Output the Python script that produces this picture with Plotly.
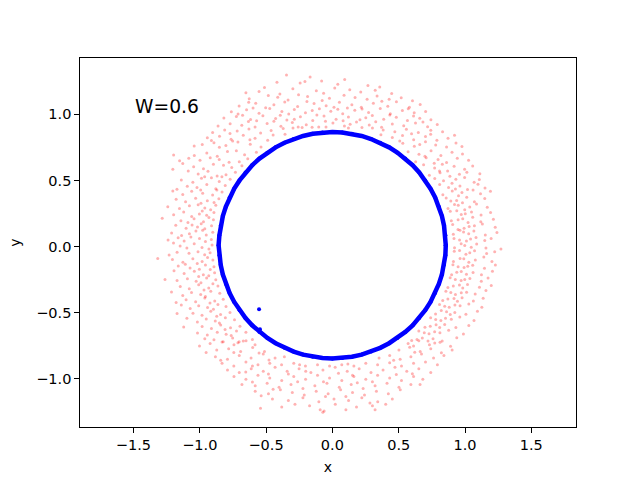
import plotly.graph_objects as go

# Noisy outer cloud (red), hand-read estimates (x, y)
red_top = [
    (-0.346, 1.297), (-0.168, 1.281), (0.093, 1.262),
    (-0.418, 1.241), (-0.243, 1.236), (-0.207, 1.247), (0.268, 1.218), (0.041, 1.226), (0.357, 1.206), (-0.512, 1.203), (-0.081, 1.252),
    (-0.553, 1.171), (-0.298, 1.193), (-0.121, 1.178), (0.131, 1.186), (-0.066, 1.158), (0.214, 1.169), (0.447, 1.157), (-0.396, 1.153), (0.018, 1.199), (0.323, 1.181), (-0.652, 1.162),
    (-0.627, 1.118), (-0.483, 1.142), (-0.334, 1.107), (-0.187, 1.134), (-0.022, 1.121), (0.088, 1.144), (0.262, 1.113), (0.337, 1.138), (0.519, 1.124), (0.604, 1.102), (-0.077, 1.104), (-0.412, 1.129), (0.171, 1.127), (-0.255, 1.148), (0.428, 1.113),
    (-0.703, 1.063), (-0.578, 1.084), (-0.441, 1.071), (-0.359, 1.093), (-0.262, 1.058), (-0.138, 1.082), (-0.047, 1.064), (0.053, 1.091), (0.147, 1.072), (0.218, 1.053), (0.309, 1.084), (0.418, 1.061), (0.483, 1.094), (0.581, 1.052), (0.662, 1.074), (-0.503, 1.049), (-0.192, 1.097), (0.012, 1.053), (0.373, 1.099), (-0.631, 1.091),
    (-0.762, 1.018), (-0.647, 1.034), (-0.553, 1.008), (-0.472, 1.043), (-0.381, 1.021), (-0.287, 1.036), (-0.203, 1.011), (-0.098, 1.042), (-0.012, 1.022), (0.078, 1.004), (0.169, 1.031), (0.273, 1.013), (0.361, 1.044), (0.437, 1.003), (0.528, 1.029), (0.617, 1.012), (0.703, 1.021), (-0.329, 1.002), (0.113, 1.048), (-0.598, 1.047), (-0.152, 1.029), (0.224, 1.039), (0.572, 1.041), (-0.711, 1.001), (0.041, 1.037),
    (-0.818, 0.972), (-0.724, 0.983), (-0.617, 0.961), (-0.524, 0.989), (-0.428, 0.968), (-0.343, 0.957), (-0.241, 0.981), (-0.148, 0.953), (-0.063, 0.987), (0.028, 0.962), (0.121, 0.979), (0.208, 0.958), (0.301, 0.991), (0.387, 0.963), (0.482, 0.978), (0.566, 0.952), (0.659, 0.969), (0.743, 0.958), (-0.571, 0.951), (0.252, 0.973), (-0.117, 0.994), (-0.677, 0.992), (0.433, 0.994), (-0.393, 0.993), (0.081, 0.951), (0.612, 0.987), (-0.287, 0.962),
    (-0.862, 0.912), (-0.771, 0.928), (-0.683, 0.917), (-0.583, 0.903), (-0.492, 0.931), (-0.388, 0.909), (-0.302, 0.938), (-0.197, 0.921), (-0.103, 0.904), (0.004, 0.933), (0.091, 0.911), (0.182, 0.942), (0.278, 0.919), (0.371, 0.902), (0.452, 0.927), (0.538, 0.913), (0.627, 0.934), (0.718, 0.906), (0.791, 0.923), (-0.258, 0.903), (0.327, 0.944), (-0.633, 0.946), (-0.441, 0.947), (0.134, 0.925), (-0.052, 0.948), (0.683, 0.941),
    (-0.903, 0.862), (-0.812, 0.881), (-0.718, 0.873), (-0.629, 0.888), (-0.541, 0.859), (-0.462, 0.878), (-0.371, 0.892), (0.383, 0.881), (0.471, 0.868), (0.558, 0.887), (0.648, 0.862), (0.742, 0.879), (0.831, 0.868), (-0.297, 0.897), (0.302, 0.896), (-0.153, 0.902), (0.121, 0.897), (-0.048, 0.904), (0.223, 0.899), (-0.772, 0.855), (0.597, 0.853), (-0.228, 0.899),
    (-0.943, 0.822), (-0.851, 0.834), (-0.764, 0.812), (-0.672, 0.841), (-0.583, 0.818), (-0.488, 0.803), (-0.447, 0.843), (0.452, 0.824), (0.529, 0.839), (0.613, 0.808), (0.702, 0.831), (0.788, 0.803), (0.872, 0.818), (-0.912, 0.801), (-0.357, 0.848), (0.366, 0.846), (0.921, 0.842), (-0.622, 0.807), (0.741, 0.848),
    (-0.981, 0.772), (-0.893, 0.784), (-0.803, 0.763), (-0.712, 0.791), (-0.619, 0.774), (-0.538, 0.752), (0.531, 0.781), (0.618, 0.759), (0.702, 0.793), (0.779, 0.768), (0.861, 0.752), (0.932, 0.783), (-0.852, 0.751), (-0.752, 0.797), (0.659, 0.771), (-1.042, 0.761), (0.508, 0.797), (0.977, 0.757),
    (-1.197, 0.693), (-1.152, 0.648), (-1.203, 0.584),
]
red_left = [
    (-0.573, 0.712), (-0.662, 0.694), (-0.791, 0.718), (-0.868, 0.683), (-0.947, 0.707), (-0.724, 0.725), (-1.041, 0.689),
    (-0.638, 0.663), (-0.702, 0.641), (-0.853, 0.659), (-0.921, 0.672), (-0.779, 0.638), (-0.998, 0.652), (-1.083, 0.667),
    (-0.682, 0.611), (-0.759, 0.598), (-0.897, 0.622), (-0.972, 0.589), (-0.821, 0.614), (-1.046, 0.603), (-1.128, 0.628),
    (-0.731, 0.562), (-0.802, 0.543), (-0.938, 0.569), (-1.012, 0.548), (-0.869, 0.534), (-1.087, 0.571), (-0.963, 0.527),
    (-0.771, 0.509), (-0.853, 0.492), (-0.987, 0.516), (-1.052, 0.487), (-0.912, 0.521), (-1.139, 0.503), (-0.833, 0.527),
    (-0.808, 0.461), (-0.879, 0.438), (-1.021, 0.447), (-0.947, 0.469), (-1.094, 0.456), (-1.172, 0.433), (-0.993, 0.428),
    (-0.832, 0.412), (-0.903, 0.389), (-1.061, 0.418), (-0.978, 0.403), (-1.128, 0.394), (-1.203, 0.421), (-0.871, 0.427),
    (-0.856, 0.361), (-0.943, 0.347), (-1.031, 0.366), (-1.107, 0.339), (-0.991, 0.328), (-1.178, 0.357), (-0.892, 0.333),
    (-0.879, 0.312), (-0.962, 0.291), (-1.078, 0.308), (-1.012, 0.317), (-1.153, 0.287), (-0.918, 0.279), (-1.241, 0.302),
    (-0.893, 0.258), (-1.003, 0.247), (-0.948, 0.236), (-1.121, 0.262), (-1.061, 0.228), (-1.197, 0.241), (-0.981, 0.269),
    (-0.897, 0.203), (-0.972, 0.188), (-1.043, 0.211), (-1.142, 0.196), (-0.931, 0.219), (-1.089, 0.183), (-1.283, 0.214),
    (-0.911, 0.157), (-1.017, 0.148), (-0.962, 0.134), (-1.181, 0.161), (-1.103, 0.139), (-0.989, 0.172), (-1.058, 0.163),
    (-0.902, 0.108), (-0.951, 0.087), (-1.078, 0.097), (-1.029, 0.118), (-1.212, 0.102), (-1.137, 0.083), (-0.978, 0.123),
    (-0.913, 0.054), (-1.002, 0.061), (-1.118, 0.043), (-0.957, 0.038), (-1.067, 0.072), (-1.239, 0.049), (-1.163, 0.067),
    (-0.907, 0.012), (-0.983, -0.007), (-1.042, 0.021), (-1.148, 0.004), (-0.931, -0.018), (-1.097, -0.011), (-1.198, 0.027),
    (-0.922, -0.047), (-1.013, -0.039), (-0.963, -0.062), (-1.081, -0.051), (-1.317, -0.089), (-1.171, -0.043), (-1.231, -0.063),
    (-0.901, -0.101), (-0.982, -0.113), (-1.052, -0.092), (-1.127, -0.118), (-0.941, -0.082), (-1.206, -0.097), (-1.019, -0.127),
    (-0.893, -0.152), (-0.957, -0.139), (-1.073, -0.162), (-1.003, -0.171), (-1.162, -0.147), (-0.921, -0.173), (-1.109, -0.134),
    (-0.888, -0.198), (-0.973, -0.213), (-1.041, -0.187), (-1.118, -0.204), (-0.932, -0.221), (-1.194, -0.183), (-1.008, -0.226),
    (-0.879, -0.251), (-0.948, -0.238), (-1.027, -0.262), (-1.093, -0.243), (-0.991, -0.273), (-1.171, -0.257), (-1.262, -0.248),
    (-0.863, -0.297), (-0.932, -0.312), (-1.008, -0.289), (-1.079, -0.318), (-0.968, -0.328), (-1.147, -0.302), (-0.901, -0.281),
    (-0.849, -0.352), (-0.917, -0.338), (-0.993, -0.361), (-1.062, -0.347), (-1.128, -0.369), (-0.957, -0.377), (-1.213, -0.343),
    (-0.823, -0.398), (-0.887, -0.411), (-0.962, -0.389), (-1.031, -0.417), (-1.103, -0.402), (-0.923, -0.426), (-1.178, -0.423),
    (-0.802, -0.452), (-0.863, -0.437), (-0.941, -0.461), (-1.008, -0.447), (-1.072, -0.468), (-0.897, -0.473), (-1.139, -0.441),
    (-0.772, -0.498), (-0.843, -0.513), (-0.917, -0.489), (-0.983, -0.518), (-1.051, -0.503), (-0.872, -0.527), (-1.171, -0.506),
    (-0.738, -0.553), (-0.807, -0.538), (-0.883, -0.562), (-0.951, -0.547), (-1.018, -0.569), (-0.852, -0.577), (-1.097, -0.541),
    (-0.697, -0.601), (-0.768, -0.614), (-0.842, -0.592), (-0.912, -0.618), (-0.982, -0.603), (-0.809, -0.627), (-1.121, -0.607),
    (-0.652, -0.648), (-0.723, -0.637), (-0.801, -0.662), (-0.868, -0.647), (-0.943, -0.668), (-0.763, -0.672), (-1.017, -0.652),
    (-0.603, -0.702), (-0.672, -0.713), (-0.752, -0.691), (-0.823, -0.718), (-0.893, -0.704), (-0.712, -0.727), (-0.962, -0.697),
]
red_right = [
    (0.571, 0.716), (0.653, 0.697), (0.744, 0.724), (0.818, 0.689), (0.902, 0.712), (0.698, 0.683), (0.981, 0.699),
    (0.628, 0.641), (0.707, 0.672), (0.797, 0.658), (0.861, 0.636), (0.942, 0.667), (0.768, 0.629), (1.027, 0.652),
    (0.688, 0.618), (0.771, 0.594), (0.829, 0.623), (0.918, 0.607), (0.997, 0.584), (0.808, 0.572), (1.058, 0.609),
    (0.731, 0.539), (0.812, 0.558), (0.869, 0.571), (0.958, 0.547), (1.014, 0.562), (0.886, 0.531), (1.112, 0.551),
    (0.772, 0.514), (0.838, 0.497), (0.931, 0.508), (0.997, 0.523), (1.069, 0.486), (0.902, 0.479), (1.108, 0.507),
    (0.809, 0.469), (0.876, 0.447), (0.962, 0.458), (1.019, 0.432), (1.098, 0.471), (0.928, 0.436), (1.151, 0.443),
    (0.833, 0.392), (0.904, 0.421), (0.977, 0.409), (1.061, 0.428), (1.117, 0.399), (0.951, 0.384), (1.192, 0.418),
    (0.858, 0.368), (0.937, 0.349), (1.013, 0.372), (1.071, 0.338), (1.149, 0.363), (0.981, 0.331), (0.893, 0.344),
    (0.872, 0.288), (0.949, 0.312), (1.036, 0.299), (1.087, 0.321), (1.168, 0.297), (0.998, 0.279), (0.921, 0.318),
    (0.889, 0.267), (0.972, 0.243), (1.049, 0.262), (1.121, 0.238), (1.193, 0.258), (1.002, 0.249), (0.938, 0.271),
    (0.897, 0.196), (0.983, 0.211), (1.058, 0.221), (1.119, 0.188), (1.214, 0.207), (1.023, 0.183), (0.948, 0.203),
    (0.907, 0.167), (0.993, 0.139), (1.071, 0.158), (1.131, 0.171), (1.228, 0.146), (1.031, 0.151), (0.947, 0.129),
    (0.912, 0.093), (0.989, 0.111), (1.067, 0.118), (1.153, 0.087), (1.241, 0.106), (1.028, 0.097), (0.962, 0.124),
    (0.917, 0.061), (1.011, 0.043), (1.083, 0.068), (1.149, 0.047), (1.197, 0.062), (1.042, 0.058), (0.959, 0.049),
    (0.921, -0.008), (0.998, 0.009), (1.088, 0.019), (1.158, -0.011), (1.271, -0.018), (1.047, -0.004), (0.971, 0.021),
    (0.919, -0.036), (1.007, -0.058), (1.072, -0.031), (1.163, -0.053), (1.224, -0.039), (1.036, -0.047), (0.959, -0.029),
    (0.913, -0.113), (0.991, -0.092), (1.078, -0.101), (1.142, -0.079), (1.203, -0.112), (1.029, -0.118), (0.963, -0.089),
    (0.909, -0.137), (0.993, -0.158), (1.058, -0.141), (1.147, -0.163), (1.229, -0.139), (1.021, -0.149), (0.948, -0.153),
    (0.899, -0.212), (0.972, -0.189), (1.061, -0.196), (1.124, -0.213), (1.207, -0.187), (1.011, -0.208), (0.938, -0.193),
    (0.888, -0.236), (0.971, -0.257), (1.037, -0.241), (1.123, -0.261), (1.174, -0.237), (0.998, -0.249), (0.927, -0.248),
    (0.871, -0.309), (0.958, -0.291), (1.019, -0.286), (1.109, -0.307), (1.198, -0.294), (0.983, -0.312), (0.912, -0.297),
    (0.856, -0.337), (0.928, -0.361), (1.012, -0.344), (1.077, -0.358), (1.158, -0.332), (0.972, -0.349), (0.893, -0.347),
    (0.832, -0.407), (0.917, -0.392), (0.978, -0.387), (1.063, -0.411), (1.137, -0.391), (0.943, -0.413), (0.871, -0.396),
    (0.808, -0.437), (0.881, -0.459), (0.963, -0.446), (1.029, -0.433), (1.127, -0.458), (0.924, -0.441), (0.847, -0.451),
    (0.778, -0.509), (0.861, -0.492), (0.923, -0.497), (1.007, -0.511), (1.094, -0.488), (0.889, -0.513), (0.821, -0.483),
    (0.741, -0.537), (0.818, -0.558), (0.897, -0.549), (0.961, -0.531), (1.068, -0.558), (0.853, -0.541), (0.779, -0.551),
    (0.698, -0.609), (0.782, -0.591), (0.847, -0.588), (0.931, -0.611), (1.029, -0.597), (0.809, -0.612), (0.738, -0.602),
    (0.652, -0.637), (0.729, -0.658), (0.811, -0.651), (0.877, -0.632), (0.988, -0.661), (0.771, -0.643), (0.693, -0.651),
    (0.598, -0.709), (0.678, -0.691), (0.759, -0.697), (0.828, -0.713), (0.938, -0.689), (0.721, -0.713), (0.638, -0.702),
]
red_bottom = [
    (-0.922, -0.732), (-0.832, -0.721), (-0.742, -0.742), (-0.651, -0.712), (-0.583, -0.742), (0.571, -0.732), (0.652, -0.711), (0.732, -0.742), (0.812, -0.722), (0.891, -0.752), (-1.002, -0.751), (-0.703, -0.719), (0.612, -0.751), (0.772, -0.728),
    (-0.872, -0.782), (-0.782, -0.771), (-0.692, -0.792), (-0.601, -0.762), (-0.512, -0.792), (0.502, -0.782), (0.583, -0.761), (0.662, -0.792), (0.742, -0.772), (0.822, -0.802), (0.903, -0.782), (-0.952, -0.801), (-0.553, -0.803), (0.621, -0.799), (-0.743, -0.801),
    (-0.882, -0.832), (-0.791, -0.852), (-0.702, -0.822), (-0.613, -0.842), (-0.521, -0.812), (-0.432, -0.842), (-0.362, -0.832), (0.352, -0.842), (0.432, -0.822), (0.511, -0.852), (0.592, -0.832), (0.672, -0.812), (0.763, -0.842), (0.841, -0.822), (-0.842, -0.858), (0.462, -0.858), (-0.478, -0.857),
    (-0.832, -0.882), (-0.743, -0.902), (-0.652, -0.872), (-0.561, -0.892), (-0.472, -0.882), (-0.383, -0.892), (-0.291, -0.882), (-0.203, -0.902), (-0.112, -0.892), (-0.021, -0.902), (0.071, -0.892), (0.162, -0.902), (0.252, -0.882), (0.341, -0.892), (0.432, -0.877), (0.521, -0.902), (0.612, -0.882), (0.702, -0.872), (0.792, -0.892), (-0.247, -0.893), (0.117, -0.887), (-0.603, -0.903),
    (-0.791, -0.932), (-0.702, -0.952), (-0.612, -0.922), (-0.521, -0.942), (-0.432, -0.912), (-0.341, -0.942), (-0.251, -0.922), (-0.162, -0.952), (-0.071, -0.932), (0.021, -0.912), (0.112, -0.942), (0.202, -0.922), (0.291, -0.952), (0.382, -0.932), (0.472, -0.912), (0.561, -0.942), (0.652, -0.922), (0.742, -0.952), (-0.482, -0.962), (0.152, -0.972), (-0.653, -0.947), (0.603, -0.961), (-0.201, -0.941), (0.046, -0.957),
    (-0.742, -0.982), (-0.652, -1.002), (-0.561, -0.972), (-0.472, -0.992), (-0.382, -1.012), (-0.291, -0.982), (-0.202, -1.002), (-0.112, -0.972), (-0.021, -0.992), (0.071, -1.012), (0.162, -0.982), (0.252, -1.002), (0.341, -0.972), (0.432, -0.992), (0.521, -1.012), (0.612, -0.982), (0.682, -1.002), (-0.332, -0.962), (0.302, -1.022), (-0.067, -1.021), (0.482, -0.967), (-0.603, -1.023),
    (-0.682, -1.042), (-0.582, -1.052), (-0.492, -1.032), (-0.402, -1.062), (-0.312, -1.042), (-0.222, -1.072), (-0.132, -1.052), (-0.041, -1.032), (0.052, -1.062), (0.142, -1.042), (0.232, -1.072), (0.322, -1.052), (0.412, -1.032), (0.502, -1.062), (0.592, -1.042), (-0.262, -1.022), (0.661, -1.042), (-0.447, -1.077), (0.188, -1.028),
    (-0.582, -1.092), (-0.482, -1.112), (-0.392, -1.082), (-0.302, -1.102), (-0.212, -1.122), (-0.122, -1.092), (-0.032, -1.112), (0.062, -1.082), (0.152, -1.102), (0.242, -1.122), (0.332, -1.092), (0.422, -1.112), (0.512, -1.082), (0.102, -1.132), (-0.537, -1.127),
    (-0.452, -1.152), (-0.332, -1.162), (-0.222, -1.142), (-0.102, -1.172), (0.012, -1.152), (0.122, -1.162), (0.222, -1.142), (0.342, -1.172), (0.452, -1.152), (-0.052, -1.132), (0.283, -1.181),
    (-0.382, -1.212), (-0.172, -1.202), (-0.092, -1.232), (0.022, -1.192), (0.182, -1.212), (0.302, -1.202), (-0.282, -1.192), (0.402, -1.192),
    (-0.062, -1.242), (0.102, -1.232), (-0.542, -1.222), (0.322, -1.232), (-0.072, -1.252),
]
red_points = red_top + red_left + red_right + red_bottom
red_x = [p[0] for p in red_points]
red_y = [p[1] for p in red_points]

# Inner ring (blue), hand-read estimates going round the circle
blue_x = [0.855, 0.852, 0.842, 0.826, 0.803, 0.775, 0.740, 0.700, 0.655, 0.605, 0.550, 0.490,
          0.428, 0.361, 0.292, 0.221, 0.148, 0.075, 0.000, -0.075, -0.148, -0.221, -0.292, -0.361,
          -0.428, -0.490, -0.550, -0.605, -0.655, -0.700, -0.740, -0.775, -0.803, -0.826, -0.842, -0.852,
          -0.858, -0.852, -0.842, -0.826, -0.803, -0.775, -0.740, -0.700, -0.655, -0.605, -0.550, -0.490,
          -0.428, -0.361, -0.292, -0.221, -0.148, -0.075, 0.000, 0.075, 0.148, 0.221, 0.292, 0.361,
          0.428, 0.490, 0.550, 0.605, 0.655, 0.700, 0.740, 0.775, 0.803, 0.826, 0.842, 0.852, 0.855]
blue_y = [0.010, 0.085, 0.158, 0.231, 0.302, 0.371, 0.438, 0.500, 0.560, 0.615, 0.665, 0.710,
          0.750, 0.785, 0.813, 0.836, 0.852, 0.862, 0.865, 0.862, 0.852, 0.836, 0.813, 0.785,
          0.750, 0.710, 0.665, 0.615, 0.560, 0.500, 0.438, 0.371, 0.302, 0.231, 0.158, 0.085,
          0.010, -0.065, -0.138, -0.211, -0.282, -0.351, -0.418, -0.480, -0.540, -0.595, -0.645, -0.690,
          -0.730, -0.765, -0.793, -0.816, -0.832, -0.842, -0.845, -0.842, -0.832, -0.816, -0.793, -0.765,
          -0.730, -0.690, -0.645, -0.595, -0.540, -0.480, -0.418, -0.351, -0.282, -0.211, -0.138, -0.065, 0.010]
blue_stray_x = [-0.546, -0.553]
blue_stray_y = [-0.624, -0.474]

tick_vals = [-1.5, -1.0, -0.5, 0.0, 0.5, 1.0, 1.5]
x_tick_text = ["\u22121.5", "\u22121.0", "\u22120.5", "0.0", "0.5", "1.0", "1.5"]
y_tick_vals = [-1.0, -0.5, 0.0, 0.5, 1.0]
y_tick_text = ["\u22121.0", "\u22120.5", "0.0", "0.5", "1.0"]
label_text = "W=0.6"

fig = go.Figure()
fig.add_trace(go.Scatter(
    x=red_x, y=red_y, mode="markers",
    marker=dict(color="rgba(255,0,0,0.3)", size=3, line=dict(width=0)),
    showlegend=False, hoverinfo="skip"))
fig.add_trace(go.Scatter(
    x=blue_x, y=blue_y, mode="lines+markers",
    line=dict(color="blue", width=4.5),
    marker=dict(color="blue", size=4),
    showlegend=False))
fig.add_trace(go.Scatter(
    x=blue_stray_x, y=blue_stray_y, mode="markers",
    marker=dict(color="blue", size=4),
    showlegend=False))

fig.add_annotation(x=-1.5, y=1.0, xref="x", yref="y", text=label_text,
                   showarrow=False, xanchor="left", yanchor="bottom", yshift=-5,
                   font=dict(family="DejaVu Sans", size=18.7, color="black"))

axis_common = dict(showgrid=False, zeroline=False, showline=True, linecolor="black",
                   linewidth=1, mirror=True, ticks="outside", ticklen=4.7, tickwidth=1,
                   tickcolor="black", automargin=False,
                   tickfont=dict(family="DejaVu Sans", size=14.5, color="black"))

fig.update_layout(
    width=640, height=480,
    margin=dict(l=80, r=64, t=58, b=53),
    paper_bgcolor="white", plot_bgcolor="white",
    xaxis=dict(range=[-1.903, 1.837], tickmode="array", tickvals=tick_vals, ticktext=x_tick_text,
               title=dict(text="x", font=dict(family="DejaVu Sans", size=14, color="black"), standoff=10),
               **axis_common),
    yaxis=dict(range=[-1.363, 1.425], tickmode="array", tickvals=y_tick_vals, ticktext=y_tick_text,
               title=dict(text="y", font=dict(family="DejaVu Sans", size=14, color="black"), standoff=12),
               **axis_common),
)

fig.write_html("out.html", config={"displayModeBar": False},
               post_script="document.body.style.margin='0';document.body.style.padding='0';")
